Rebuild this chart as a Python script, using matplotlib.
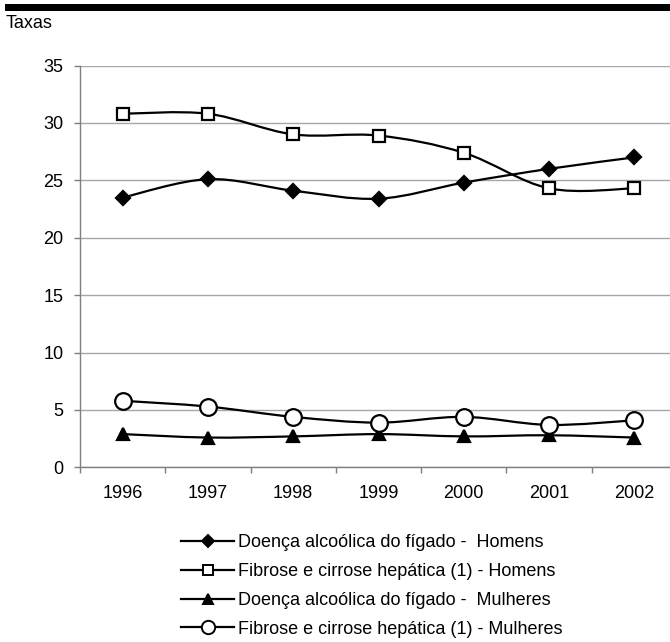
import matplotlib
matplotlib.use("Agg")
import matplotlib.pyplot as plt
from matplotlib.path import Path
from matplotlib.patches import PathPatch, Rectangle
from matplotlib.lines import Line2D
import numpy as np

plt.rcParams['font.family'] = ['Liberation Sans', 'DejaVu Sans']

years = ['1996', '1997', '1998', '1999', '2000', '2001', '2002']
doenca_homens = [23.5, 25.1, 24.1, 23.4, 24.8, 26.0, 27.0]
fibrose_homens = [30.8, 30.8, 29.0, 28.9, 27.4, 24.3, 24.3]
doenca_mulheres = [2.9, 2.6, 2.7, 2.9, 2.7, 2.8, 2.6]
fibrose_mulheres = [5.8, 5.3, 4.4, 3.9, 4.4, 3.7, 4.1]

labels = [
    'Doença alcoólica do fígado -  Homens',
    'Fibrose e cirrose hepática (1) - Homens',
    'Doença alcoólica do fígado -  Mulheres',
    'Fibrose e cirrose hepática (1) - Mulheres',
]

styles = [
    dict(marker='D', ms=7.5, mfc='black'),
    dict(marker='s', ms=9, mfc='white'),
    dict(marker='^', ms=9, mfc='black'),
    dict(marker='o', ms=12, mfc='white'),
]


def smooth_path(xs, ys):
    """Cardinal (Catmull-Rom) Bezier through the points, like a smoothed line chart."""
    pts = np.column_stack([xs, ys]).astype(float)
    n = len(pts)
    verts = [pts[0]]
    codes = [Path.MOVETO]
    for i in range(n - 1):
        p0 = pts[i - 1] if i > 0 else pts[i]
        p1 = pts[i]
        p2 = pts[i + 1]
        p3 = pts[i + 2] if i + 2 < n else pts[i + 1]
        c1 = p1 + (p2 - p0) / 6.0
        c2 = p2 - (p3 - p1) / 6.0
        verts += [c1, c2, p2]
        codes += [Path.CURVE4] * 3
    return Path(verts, codes)


W, H = 670, 642
fig = plt.figure(figsize=(W / 100, H / 100), dpi=100)
ax = fig.add_axes([80 / W, (H - 467.4) / H, 597 / W, (467.4 - 65.5) / H])

x = np.arange(len(years))
series = [doenca_homens, fibrose_homens, doenca_mulheres, fibrose_mulheres]
handles = []
for vals, st, lab in zip(series, styles, labels):
    ax.add_patch(PathPatch(smooth_path(x, vals), facecolor='none', edgecolor='black',
                           lw=1.6, zorder=3))
    ax.plot(x, vals, ls='none', marker=st['marker'], ms=st['ms'], mfc=st['mfc'],
            mec='black', mew=1.6, zorder=4, clip_on=False)
    handles.append(Line2D([], [], color='black', lw=1.6, marker=st['marker'],
                          ms=st['ms'] * 0.8, mfc=st['mfc'], mec='black', mew=1.4))

ax.set_xlim(-0.5, len(years) - 0.5)
ax.set_ylim(0, 35)
ax.set_yticks(np.arange(0, 36, 5))
ax.set_xticks(x)
ax.set_xticklabels(years)
ax.set_xticks(np.arange(-0.5, len(years), 1.0), minor=True)
ax.yaxis.grid(True, color='#a6a6a6', lw=1.0)
ax.set_axisbelow(True)

for s in ['top', 'right']:
    ax.spines[s].set_visible(False)
for s in ['left', 'bottom']:
    ax.spines[s].set_color('#7f7f7f')
    ax.spines[s].set_linewidth(1.0)

ax.tick_params(axis='y', length=4.5, width=1.0, color='#7f7f7f', pad=7.5, labelsize=13)
ax.tick_params(axis='x', which='major', length=0, pad=13, labelsize=13)
ax.tick_params(axis='x', which='minor', length=4, width=1.0, color='#7f7f7f')

# heavy rule across the top and the unit caption
fig.patches.append(Rectangle((5 / W, 1 - 10.5 / H), 1, 6.5 / H, transform=fig.transFigure,
                             facecolor='black', edgecolor='none'))
fig.text(6 / W, 1 - 28.3 / H, 'Taxas', fontsize=13, va='baseline', ha='left')

fig.legend(handles=handles, labels=labels, loc='upper left',
           bbox_to_anchor=(181 / W, 1 - 534 / H), frameon=False,
           fontsize=13, handlelength=2.95, handletextpad=0.22, labelspacing=0.66,
           borderpad=0, borderaxespad=0)

fig.savefig('out.png', dpi=100)
